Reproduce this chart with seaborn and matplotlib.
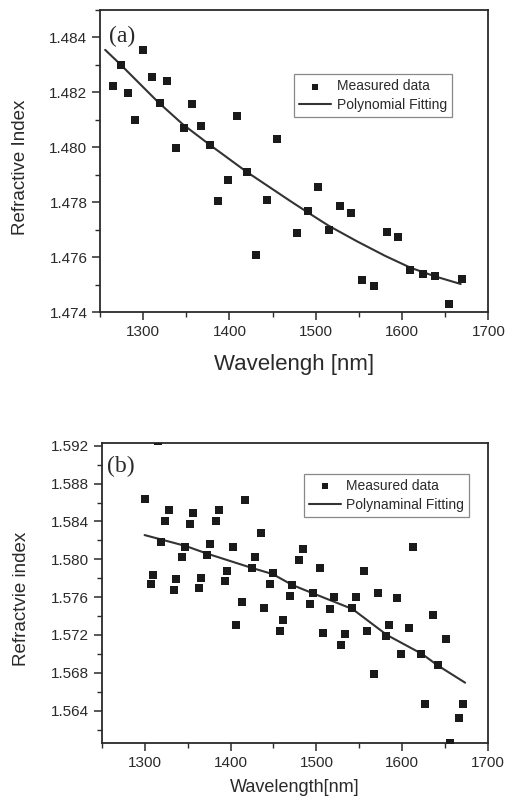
import numpy as np
import pandas as pd
import matplotlib
matplotlib.use("Agg")
import matplotlib.pyplot as plt
from matplotlib.ticker import MultipleLocator, FormatStrFormatter
import seaborn as sns

# ---- panel (a) data ----
wl_a = [1265, 1274, 1282, 1291, 1300, 1310, 1319, 1328, 1338, 1347, 1357, 1367,
        1377, 1387, 1398, 1409, 1420, 1431, 1443, 1455, 1478, 1491, 1503, 1515,
        1528, 1541, 1554, 1567, 1582, 1595, 1609, 1624, 1638, 1654, 1669]
n_a = [1.48222, 1.48301, 1.48197, 1.48099, 1.48356, 1.48255, 1.48160, 1.48240,
       1.47997, 1.48072, 1.48158, 1.48077, 1.48008, 1.47804, 1.47883, 1.48113,
       1.47910, 1.47608, 1.47809, 1.48030, 1.47687, 1.47768, 1.47856, 1.47701,
       1.47787, 1.47761, 1.47516, 1.47497, 1.47692, 1.47674, 1.47553, 1.47540,
       1.47532, 1.47431, 1.47520]
fit_wl_a = [1256, 1274, 1317, 1346, 1377, 1420, 1470, 1490, 1515, 1548, 1580, 1610, 1639, 1668]
fit_n_a = [1.48355, 1.48301, 1.48166, 1.48084, 1.48010, 1.47911, 1.47806, 1.47765,
           1.47715, 1.47658, 1.47606, 1.47562, 1.47530, 1.47503]

# ---- panel (b) data ----
wl_b = [1300, 1307, 1310, 1316, 1319, 1324, 1328, 1334, 1337, 1344,
        1347, 1353, 1356, 1363, 1366, 1373, 1376, 1383, 1386, 1393,
        1396, 1403, 1406, 1413, 1417, 1425, 1428, 1435, 1439, 1446,
        1449, 1457, 1461, 1469, 1472, 1480, 1484, 1492, 1496, 1504,
        1508, 1516, 1520, 1529, 1533, 1541, 1546, 1555, 1559, 1567,
        1572, 1581, 1585, 1594, 1598, 1608, 1612, 1622, 1626, 1636,
        1641, 1651, 1656, 1666, 1671]
n_b = [1.58633, 1.57738, 1.57837, 1.59250, 1.58179, 1.58404, 1.58520, 1.57678, 1.57788, 1.58020,
       1.58133, 1.58369, 1.58488, 1.57692, 1.57805, 1.58045, 1.58157, 1.58404, 1.58520, 1.57766,
       1.57879, 1.58126, 1.57309, 1.57548, 1.58622, 1.57911, 1.58020, 1.58281, 1.57485, 1.57735,
       1.57854, 1.57242, 1.57358, 1.57615, 1.57731, 1.57992, 1.58112, 1.57527, 1.57640, 1.57911,
       1.57220, 1.57478, 1.57604, 1.57090, 1.57213, 1.57481, 1.57604, 1.57876, 1.57242, 1.56791,
       1.57640, 1.57189, 1.57305, 1.57587, 1.56999, 1.57277, 1.58133, 1.57002, 1.56474, 1.57414,
       1.56879, 1.57154, 1.56060, 1.56326, 1.56470]
fit_wl_b = [1300, 1348, 1372, 1424, 1449, 1472, 1496, 1542, 1582, 1623, 1641, 1673]
fit_n_b = [1.58256, 1.58140, 1.58062, 1.57911, 1.57844, 1.57728, 1.57640, 1.57474,
           1.57200, 1.56999, 1.56879, 1.56696]

xticks = [1300, 1400, 1500, 1600, 1700]
yticks_a = [1.474, 1.476, 1.478, 1.480, 1.482, 1.484]
yticks_b = [1.564, 1.568, 1.572, 1.576, 1.580, 1.584, 1.588, 1.592]

sns.set_theme(style="ticks")
plt.rcParams['font.family'] = ['Liberation Sans', 'DejaVu Sans']

INK = "#2a2a2a"
fig = plt.figure(figsize=(5.07, 8.07), dpi=100)
ax_a = fig.add_axes([0.1972, 0.6130, 0.7660, 0.3746])
ax_b = fig.add_axes([0.2005, 0.0789, 0.7626, 0.3725])

df_a = pd.DataFrame({"wl": wl_a, "n": n_a})
df_b = pd.DataFrame({"wl": wl_b, "n": n_b})
fa = pd.DataFrame({"wl": fit_wl_a, "n": fit_n_a})
fb = pd.DataFrame({"wl": fit_wl_b, "n": fit_n_b})

for ax, df, fdf, fit_label, yt, ylim, minor_y, xlab, ylab, xlfs, ylfs, xly, yl_x, tag, tag_xy, leg_xy in [
    (ax_a, df_a, fa, "Polynomial Fitting", yticks_a, (1.474, 1.485), 0.001,
     "Wavelengh [nm]", "Refractive Index", 16, 13.5, -0.174, -0.205, "(a)", (0.024, 0.912), (0.500, 0.787)),
    (ax_b, df_b, fb, "Polynaminal Fitting", yticks_b, (1.56055, 1.59232), 0.002,
     "Wavelength[nm]", "Refractvie index", 13, 13.5, -0.146, -0.207, "(b)", (0.014, 0.922), (0.523, 0.896)),
]:
    sns.scatterplot(data=df, x="wl", y="n", marker="s", s=32, color="#1a1a1a",
                    linewidth=0, label="Measured data", ax=ax, zorder=3)
    sns.lineplot(data=fdf, x="wl", y="n", color="#333333", linewidth=1.5,
                 label=fit_label, ax=ax, sort=False, zorder=2)
    ax.set_xlim(1250, 1700)
    ax.set_ylim(*ylim)
    ax.set_xticks(xticks)
    ax.set_yticks(yt)
    ax.xaxis.set_minor_locator(MultipleLocator(50))
    ax.yaxis.set_minor_locator(MultipleLocator(minor_y))
    ax.yaxis.set_major_formatter(FormatStrFormatter("%.3f"))
    ax.tick_params(which="major", direction="out", length=6, width=1.1, color=INK,
                   labelsize=11, labelcolor=INK, pad=3)
    ax.tick_params(which="minor", direction="out", length=3.5, width=1.0, color=INK)
    for sp in ax.spines.values():
        sp.set_visible(True)
        sp.set_color(INK)
        sp.set_linewidth(1.3)
    ax.set_xlabel(xlab, fontsize=xlfs, color=INK, va="center")
    ax.set_ylabel(ylab, fontsize=ylfs, color=INK, va="center")
    ax.xaxis.set_label_coords(0.5, xly)
    ax.yaxis.set_label_coords(yl_x, 0.481)
    ax.text(tag_xy[0], tag_xy[1], tag, transform=ax.transAxes, ha="left", va="center",
            fontsize=17, color=INK, family=["Liberation Serif", "DejaVu Serif"])
    leg = ax.legend(loc="upper left", bbox_to_anchor=leg_xy, borderaxespad=0,
                    fontsize=10, frameon=True, fancybox=False, framealpha=1,
                    edgecolor="#888888", handlelength=2.3, handletextpad=0.4,
                    labelspacing=0.35, borderpad=0.35, markerscale=0.8)
    leg.get_frame().set_linewidth(0.9)
    for t in leg.get_texts():
        t.set_color(INK)

fig.savefig("out.png", dpi=100)
